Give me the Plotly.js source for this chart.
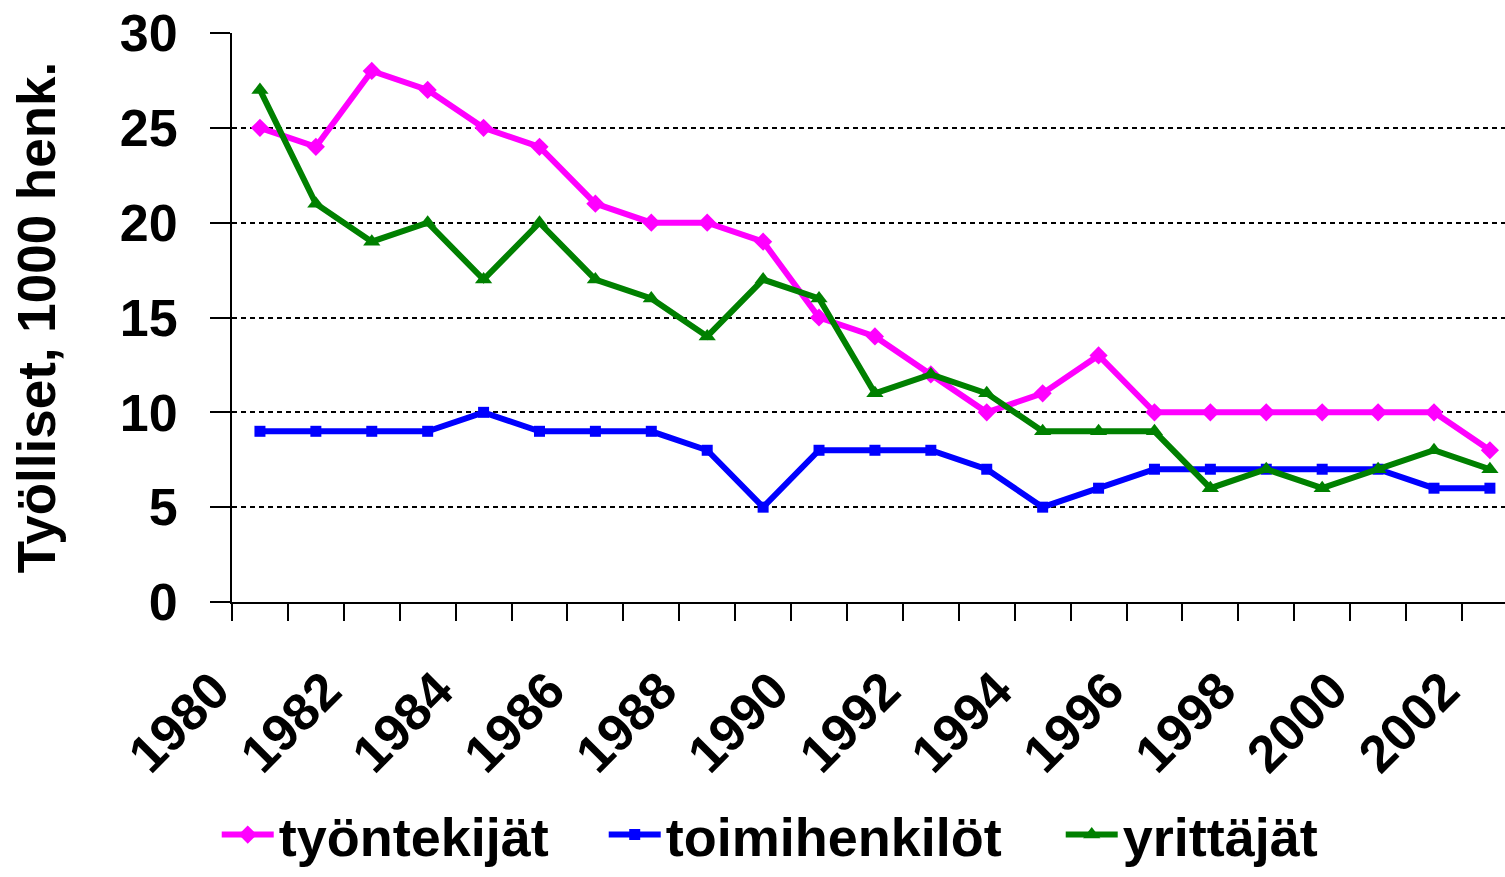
<!DOCTYPE html>
<html>
<head>
<meta charset="utf-8">
<script src="https://cdn.plot.ly/plotly-3.0.1.min.js"></script>
<style>html,body{margin:0;padding:0;background:#fff;}#chart{width:1505px;height:877px;}</style>
</head>
<body>
<div id="chart"></div>
<script>
const years = [1980,1981,1982,1983,1984,1985,1986,1987,1988,1989,1990,1991,1992,1993,1994,1995,1996,1997,1998,1999,2000,2001,2002];
const tyontekijat = [25,24,28,27,25,24,21,20,20,19,15,14,12,10,11,13,10,10,10,10,10,10,8];
const toimihenkilot = [9,9,9,9,10,9,9,9,8,5,8,8,8,7,5,6,7,7,7,7,7,6,6];
const yrittajat = [27,21,19,20,17,20,17,16,14,17,16,11,12,11,9,9,9,6,7,6,7,8,7];
const seriesNames = ["työntekijät","toimihenkilöt","yrittäjät"];

// tick marks sit on the category boundaries; labels on every other boundary
const boundaries = years.map(y => y - 0.5);
const tickText = years.map((y, i) => (i % 2 === 0 ? String(y) : ""));

const FONT = "Liberation Sans, Arial, Helvetica, sans-serif";

const traces = [
  {x: years, y: tyontekijat, name: seriesNames[0], mode: "lines+markers", cliponaxis: false, legend: "legend",
   line: {color: "#FF00FF", width: 6}, marker: {symbol: "diamond", size: 14, color: "#FF00FF"}},
  {x: years, y: toimihenkilot, name: seriesNames[1], mode: "lines+markers", cliponaxis: false, legend: "legend2",
   line: {color: "#0000FF", width: 6}, marker: {symbol: "square", size: 11, color: "#0000FF"}},
  {x: years, y: yrittajat, name: seriesNames[2], mode: "lines+markers", cliponaxis: false, legend: "legend3",
   line: {color: "#008000", width: 6}, marker: {symbol: "triangle-up", size: 15, color: "#008000"}}
];

const legendBase = (x) => ({
  orientation: "h", x: x, xanchor: "left", y: -0.4833, yanchor: "bottom",
  font: {family: FONT, size: 54, color: "#000", weight: "bold"}, itemwidth: 52,
  bgcolor: "rgba(0,0,0,0)"
});

const layout = {
  width: 1505, height: 877,
  margin: {l: 232, r: 0, t: 33, b: 275, autoexpand: false},
  paper_bgcolor: "#fff", plot_bgcolor: "#fff",
  font: {family: FONT, color: "#000", weight: "bold"},
  showlegend: true,
  legend: legendBase(-0.012),
  legend2: legendBase(0.292),
  legend3: legendBase(0.651),
  xaxis: {
    type: "linear", range: [1979.5, 2002.27],
    tickmode: "array", tickvals: boundaries, ticktext: tickText,
    tickangle: -45, ticks: "outside", ticklen: 17, tickwidth: 2, tickcolor: "#000",
    ticklabelshift: -18, ticklabelstandoff: 18,
    tickfont: {family: FONT, size: 52, color: "#000", weight: "bold"},
    showline: true, linecolor: "#000", linewidth: 2,
    showgrid: false, zeroline: false, automargin: false
  },
  yaxis: {
    range: [0, 30], tickvals: [0,5,10,15,20,25,30],
    ticks: "outside", ticklen: 20, tickwidth: 2, tickcolor: "#000",
    ticklabelstandoff: 22,
    tickfont: {family: FONT, size: 52, color: "#000", weight: "bold"},
    showline: true, linecolor: "#000", linewidth: 2,
    showgrid: true, gridcolor: "#000", gridwidth: 2, griddash: "5px,4px",
    zeroline: false, automargin: false,
    title: {text: "Työlliset, 1000 henk.", font: {family: FONT, size: 53, color: "#000", weight: "bold"}, standoff: 47}
  }
};

Plotly.newPlot("chart", traces, layout, {displayModeBar: false, staticPlot: true});
</script>
</body>
</html>
